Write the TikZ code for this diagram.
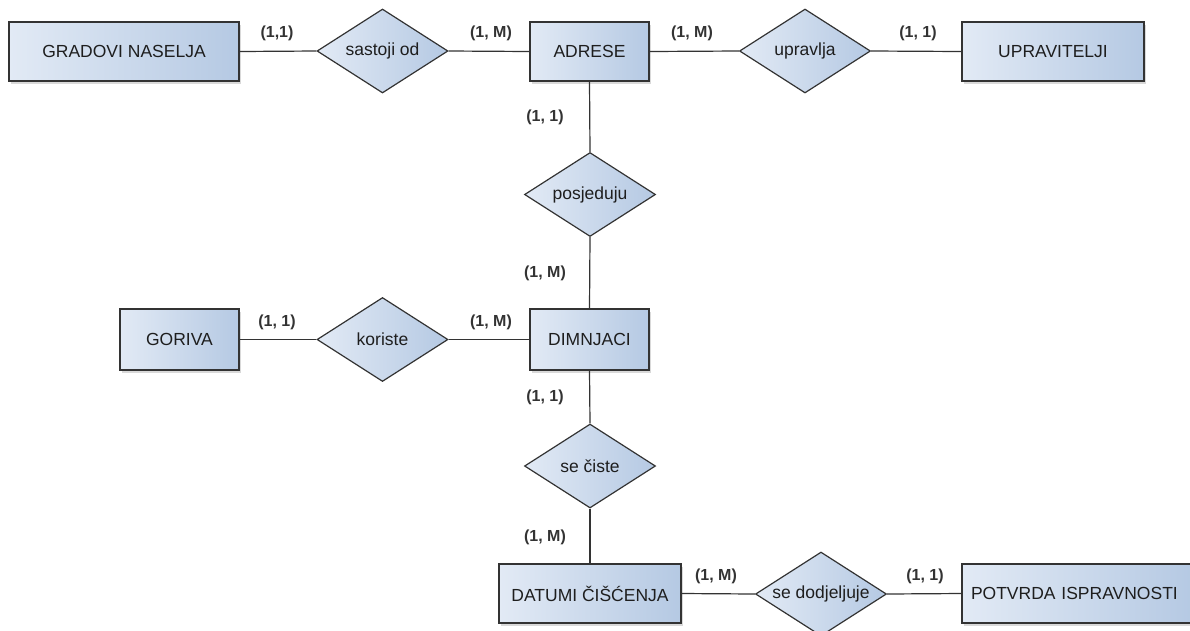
\documentclass[tikz,border=0pt]{standalone}
\usepackage{fontspec}
\setmainfont{Liberation Sans}
\usetikzlibrary{shapes.geometric,shadows}
\definecolor{fillL}{HTML}{E2EAF5}
\definecolor{fillR}{HTML}{B5C9E3}
\definecolor{edgeC}{HTML}{333333}
\definecolor{txtC}{HTML}{1E1E1E}
\definecolor{lblC}{HTML}{333333}
\tikzset{
  ent/.style={draw=edgeC, line width=1.3pt, left color=fillL, right color=fillR,
    drop shadow={opacity=0.3, shadow xshift=2pt, shadow yshift=-3pt},
    inner sep=0pt, text=txtC, font=\fontsize{17.5}{20}\selectfont},
  rel/.style={diamond, draw=edgeC, line width=1.2pt, left color=fillL, right color=fillR,
    inner sep=0pt, minimum width=131pt, minimum height=84pt, text=txtC,
    font=\fontsize{17.5}{20}\selectfont},
  lbl/.style={text=lblC, inner sep=0pt, font=\fontsize{16}{19}\selectfont\bfseries},
  con/.style={draw=edgeC, line width=1.2pt}
}
\newcommand{\zw}[1]{\makebox[0pt]{#1}}
\begin{document}
\begin{tikzpicture}[x=1pt,y=-1pt]
\useasboundingbox (0,0) rectangle (1190,630);
\begin{scope}
\clip (0,0) rectangle (1190,630);
% entities
\node[ent, minimum width=230pt, minimum height=59pt] (grad) at (124,51.5) {GRADOVI NASELJA};
\node[ent, minimum width=119pt, minimum height=59pt] (adr) at (589.5,51.5) {ADRESE};
\node[ent, minimum width=182pt, minimum height=59pt] (upr) at (1053,51.5) {UPRAVITELJI};
\node[ent, minimum width=119pt, minimum height=61pt] (gor) at (179.5,339.5) {GORIVA};
\node[ent, minimum width=119pt, minimum height=61pt] (dim) at (589.5,339.5) {DIMNJACI};
\node[ent, minimum width=182pt, minimum height=59pt] (dat) at (590,593.5) {DATUMI ČIŠĆENJA};
\node[ent, minimum width=232pt, minimum height=59pt, text width=232pt, align=left] (pot) at (1078,593.5) {\hspace*{9pt}POTVRDA ISPRAVNOSTI};
% relationships
\node[rel] (sas) at (382.5,51) {\zw{sastoji od}};
\node[rel] (upv) at (805,51) {\zw{upravlja}};
\node[rel] (pos) at (590,194.5) {\zw{posjeduju}};
\node[rel] (kor) at (382.5,339.5) {\zw{koriste}};
\node[rel] (sec) at (590,466) {\zw{se čiste}};
\node[rel] (sed) at (821,594) {\zw{se dodjeljuje}};
% connectors
\draw[con] (grad.east) -- (sas.west);
\draw[con] (sas.east) -- (adr.west);
\draw[con] (adr.east) -- (upv.west);
\draw[con] (upv.east) -- (upr.west);
\draw[con] (adr.south) -- (pos.north);
\draw[con] (pos.south) -- (dim.north);
\draw[con] (gor.east) -- (kor.west);
\draw[con] (kor.east) -- (dim.west);
\draw[con] (dim.south) -- (sec.north);
\draw[con] (sec.south) -- (dat.north);
\draw[con] (dat.east) -- (sed.west);
\draw[con] (sed.east) -- (pot.west);
% cardinalities
\node[lbl] (c1) at (277,33) {(1,1)};
\node[lbl] (c2) at (491,33) {(1, M)};
\node[lbl] (c3) at (692,33) {(1, M)};
\node[lbl] (c4) at (918,33) {(1, 1)};
\node[lbl] (c5) at (545,117) {(1, 1)};
\node[lbl] (c6) at (545,273) {(1, M)};
\node[lbl] (c7) at (277,322) {(1, 1)};
\node[lbl] (c8) at (491,322) {(1, M)};
\node[lbl] (c9) at (545,397) {(1, 1)};
\node[lbl] (c10) at (545,537) {(1, M)};
\node[lbl] (c11) at (716,576) {(1, M)};
\node[lbl] (c12) at (925,576) {(1, 1)};
\end{scope}
\end{tikzpicture}
\end{document}
